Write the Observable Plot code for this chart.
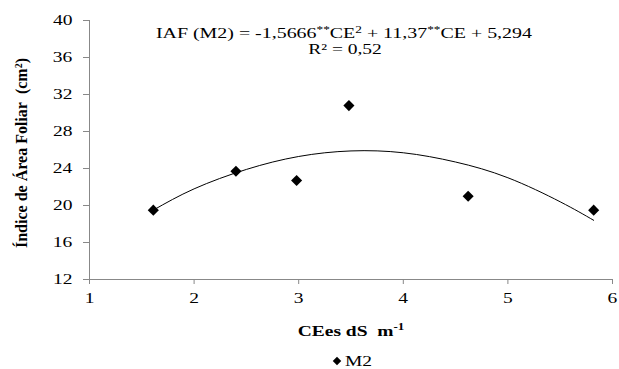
<!DOCTYPE html>
<html>
<head>
<meta charset="utf-8">
<script src="https://cdn.jsdelivr.net/npm/d3@7"></script>
<script src="https://cdn.jsdelivr.net/npm/@observablehq/plot@0.6"></script>
<style>
  html, body { margin: 0; padding: 0; background: #fff; }
  #wrap { width: 619px; font-family: 'Liberation Serif', 'Times New Roman', serif; }
  #wrap svg text { font-family: 'Liberation Serif', 'Times New Roman', serif; }
  #legend { position: relative; width: 619px; height: 24px; font-size: 15px; }
  #legend .sw { position: absolute; left: 334px; top: 13px; width: 6px; height: 6px; background: #000; transform: rotate(45deg); }
  #legend .lb { position: absolute; left: 345px; top: 8px; line-height: 16px; transform: scaleX(1.3); transform-origin: left center; white-space: nowrap; }
</style>
</head>
<body>
<div id="wrap"></div>
<script>
// Observed points (M2)
const ceValues = [1.61, 2.40, 2.98, 3.48, 4.62, 5.82];
const iafValues = [19.5, 23.7, 22.7, 30.8, 21.0, 19.5];
// Trendline
const trendCE  = [1.61, 2.0, 2.5, 3.0, 3.5, 4.0, 4.5, 5.0, 5.5, 5.82];
const trendIAF = [19.5, 21.8, 23.9, 25.3, 25.9, 25.7, 24.7, 23.0, 20.4, 18.4];
const xTicks = [1, 2, 3, 4, 5, 6];
const yTicks = [12, 16, 20, 24, 28, 32, 36, 40];
const seriesName = "M2";
const equationText = "IAF (M2) = -1,5666**CE² + 11,37**CE + 5,294";
const r2Text = "R² = 0,52";
const xTitle = "CEes dS m⁻¹";
const yTitle = "Índice de Área Foliar (cm²)";

const points = ceValues.map((x, i) => ({x, y: iafValues[i]}));
const trend = trendCE.map((x, i) => ({x, y: trendIAF[i]}));

const serif = "'Liberation Serif', 'Times New Roman', serif";

const plot = Plot.plot({
  width: 619,
  height: 345,
  marginLeft: 89,
  marginRight: 7,
  marginTop: 20,
  marginBottom: 66,
  style: {fontFamily: serif, fontSize: "15px", background: "#fff", color: "black"},
  x: {domain: [1, 6]},
  y: {domain: [12, 40]},
  marks: [
    Plot.ruleX([1], {stroke: "#888"}),
    Plot.ruleY([12], {stroke: "#888"}),
    Plot.axisX({ticks: xTicks, tickSize: 5, tickPadding: 8, stroke: "#888", fill: "black", fontSize: 15, label: null, tickFormat: d => String(d)}),
    Plot.axisY({ticks: yTicks, tickSize: 6, tickPadding: 11, stroke: "#888", fill: "black", fontSize: 15, label: null, tickFormat: d => String(d)}),
    Plot.line(trend, {x: "x", y: "y", curve: "natural", stroke: "black", strokeWidth: 1}),
    Plot.dot(points, {x: "x", y: "y", symbol: "diamond2", r: 5, fill: "black", stroke: "none"}),
    Plot.text([equationText], {frameAnchor: "top", dx: -7, dy: 7, fontSize: 15, fill: "black"}),
    Plot.text([r2Text], {frameAnchor: "top", dx: -6, dy: 23, fontSize: 15, fill: "black"}),
    Plot.text([xTitle], {frameAnchor: "bottom", dy: 56, fontSize: 15, fontWeight: "bold", fill: "black"}),
    Plot.text([yTitle], {frameAnchor: "left", textAnchor: "middle", dx: -68, dy: 3, rotate: -90, fontSize: 16, fontWeight: "bold", fill: "black"})
  ]
});

const NB = "\u00A0";
// rich-text superscripts
d3.select(plot).selectAll("text").each(function() {
  const t = d3.select(this);
  const s = t.text();
  if (s === equationText) {
    t.text(null).classed("eq", true);
    const parts = [["IAF (M2) = -1,5666", false], ["**", true], ["CE", false], ["2", true], [" + 11,37", false], ["**", true], ["CE + 5,294", false]];
    parts.forEach(([p, sup]) => {
      const ts = t.append("tspan").text(p);
      if (sup) ts.attr("baseline-shift", "super").attr("font-size", "10px");
    });
  } else if (s === xTitle) {
    t.text(null);
    t.append("tspan").text("CEes dS" + NB + NB + "m");
    t.append("tspan").text("-1").attr("baseline-shift", "super").attr("font-size", "10px");
  } else if (s === yTitle) {
    t.text(null).classed("ytitle", true);
    t.append("tspan").text("Índice de Área Foliar" + NB + NB + "(cm");
    t.append("tspan").text("2").attr("baseline-shift", "super").attr("font-size", "10px");
    t.append("tspan").text(")");
  }
});

const wrap = document.getElementById("wrap");
wrap.appendChild(plot);

// the reference's lettering is horizontally stretched; mimic it
d3.select(plot).selectAll("text").each(function() {
  if (this.classList.contains("ytitle")) return;
  const b = this.getBBox();
  const anchor = this.getAttribute("text-anchor") || (this.parentNode && this.parentNode.getAttribute("text-anchor")) || "middle";
  let ox = b.x + b.width / 2;
  if (anchor === "end") ox = b.x + b.width;
  else if (anchor === "start") ox = b.x;
  const prev = this.getAttribute("transform") || "";
  const sx = this.classList.contains("eq") ? 1.33 : 1.3;
  this.setAttribute("transform", `${prev} translate(${ox},0) scale(${sx},1) translate(${-ox},0)`);
});

const lg = document.createElement("div");
lg.id = "legend";
lg.innerHTML = '<div class="sw"></div><div class="lb">' + seriesName + '</div>';
wrap.appendChild(lg);
</script>
</body>
</html>
